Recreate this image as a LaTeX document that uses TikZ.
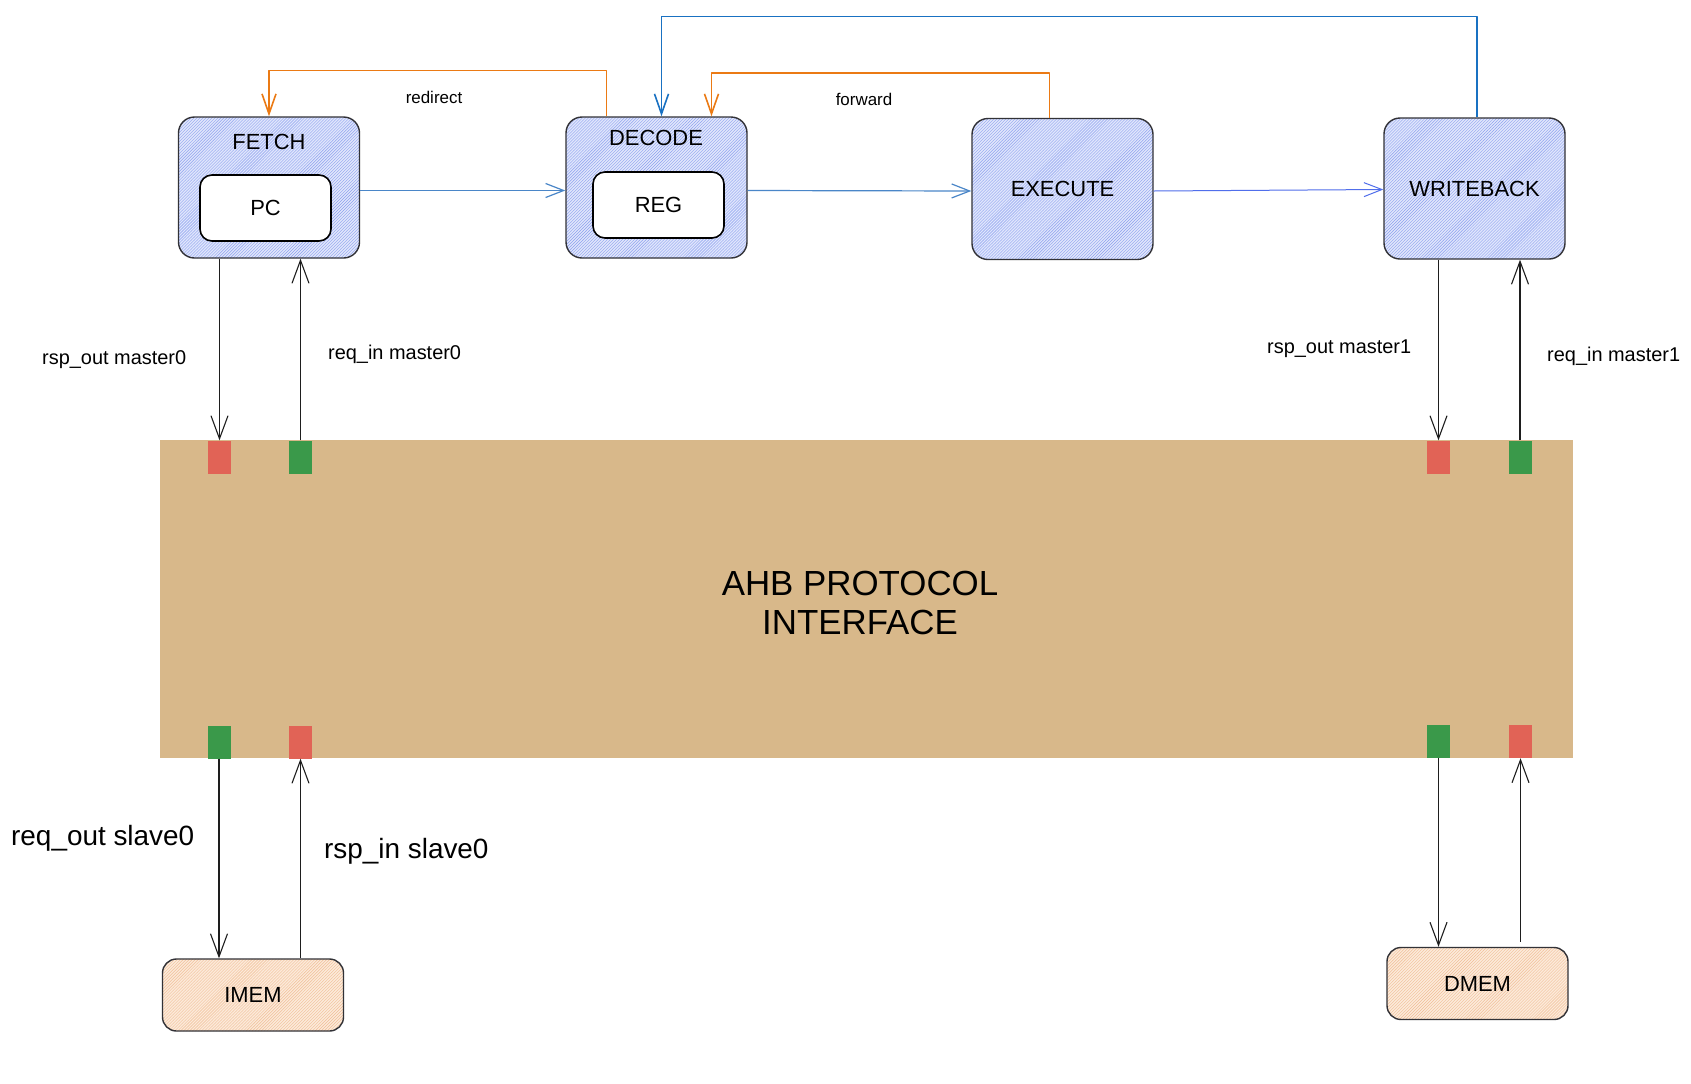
\documentclass[tikz,border=0pt]{standalone}
\usepackage{fontspec}
\setmainfont{Liberation Sans}
\usetikzlibrary{arrows.meta,patterns}
\definecolor{boxline}{RGB}{50,50,55}
\definecolor{stagefill}{RGB}{224,230,252}
\definecolor{stagehatch}{RGB}{140,160,238}
\definecolor{memfill}{RGB}{252,234,218}
\definecolor{memhatch}{RGB}{240,190,150}
\definecolor{ahbfill}{RGB}{216,184,138}
\definecolor{portred}{RGB}{225,99,86}
\definecolor{portgreen}{RGB}{58,153,74}
\definecolor{flowblue}{RGB}{74,134,200}
\definecolor{wbblue}{RGB}{80,110,235}
\definecolor{topblue}{RGB}{25,113,194}
\definecolor{fbkorange}{RGB}{235,122,20}
\definecolor{sigline}{RGB}{30,30,30}

\begin{document}
\begin{tikzpicture}[x=1bp,y=-1bp,line join=round,
    stage/.style={draw=boxline,line width=1.4bp,rounded corners=16bp,preaction={fill=stagefill},
                  pattern=north east lines,pattern color=stagehatch,minimum width=181bp,
                  minimum height=141bp,inner sep=0pt,font=\fontsize{22}{26}\selectfont},
    unit/.style={draw=black,line width=1.6bp,fill=white,rounded corners=12bp,minimum width=131bp,
                 minimum height=66bp,inner sep=0pt,font=\fontsize{22}{26}\selectfont},
    mem/.style={draw=boxline,line width=1.4bp,rounded corners=14bp,preaction={fill=memfill},
                pattern=north east lines,pattern color=memhatch,minimum width=181bp,
                minimum height=72bp,inner sep=0pt,font=\fontsize{22}{26}\selectfont},
    port/.style={minimum width=23bp,minimum height=33bp,inner sep=0pt},
    sig/.style={font=\fontsize{20}{24}\selectfont,inner sep=0pt},
    bigsig/.style={font=\fontsize{28}{32}\selectfont,inner sep=0pt},
    flow/.style={draw=flowblue,line width=1.2bp,-{Straight Barb[length=18bp,width=14bp]}},
    fbk/.style={line width=1.6bp,-{Straight Barb[length=20bp,width=14bp]}},
    bus/.style={draw=sigline,line width=1.1bp,-{Straight Barb[length=23bp,width=17bp]}}]
  \useasboundingbox[fill=white] (0,0) rectangle (1691,1083);

  \node[stage] (fetch) at (269,187.5) {};
  \node[font=\fontsize{22}{26}\selectfont] (fetchlbl) at (269,142) {FETCH};
  \node[unit] (pc) at (265.5,208) {PC};
  \node[stage] (decode) at (656.5,187.5) {};
  \node[font=\fontsize{22}{26}\selectfont] (decodelbl) at (656,138) {DECODE};
  \node[unit] (reg) at (658.5,205) {REG};
  \node[stage] (execute) at (1062.5,189) {EXECUTE};
  \node[stage] (writeback) at (1474.5,188.5) {WRITEBACK};

  \node[fill=ahbfill,minimum width=1413bp,minimum height=318bp,inner sep=0pt] (ahb) at (866.5,599) {};
  \node[align=center,font=\fontsize{35}{40}\selectfont] (ahblbl) at (860,603) {AHB PROTOCOL\\INTERFACE};
  \node[port,fill=portred] (rspm0) at (219.5,457) {};
  \node[port,fill=portgreen] (reqm0) at (300.5,457) {};
  \node[port,fill=portred] (rspm1) at (1438.5,457) {};
  \node[port,fill=portgreen] (reqm1) at (1520,457) {};
  \node[port,fill=portgreen] (reqs0) at (219,742) {};
  \node[port,fill=portred] (rsps0) at (300.5,742) {};
  \node[port,fill=portgreen] (reqs1) at (1438.5,741.5) {};
  \node[port,fill=portred] (rsps1) at (1520.5,741.5) {};

  \node[mem] (imem) at (253,995) {IMEM};
  \node[mem] (dmem) at (1477.5,983.5) {DMEM};

  \node[sig,anchor=base west] (rspm0lbl) at (42,364) {rsp\_out master0};
  \node[sig,anchor=base west] (reqm0lbl) at (328,359) {req\_in master0};
  \node[sig,anchor=base west] (rspm1lbl) at (1267,353) {rsp\_out master1};
  \node[sig,anchor=base west] (reqm1lbl) at (1547,361) {req\_in master1};
  \node[bigsig,anchor=base west] (reqs0lbl) at (11,845) {req\_out slave0};
  \node[bigsig,anchor=base west] (rsps0lbl) at (324,858) {rsp\_in slave0};
  \node[font=\fontsize{17}{20}\selectfont] (redirectlbl) at (434,97) {redirect};
  \node[font=\fontsize{17}{20}\selectfont] (forwardlbl) at (864,99) {forward};

  \path ([yshift=-3bp]fetch.east) edge[flow] ([yshift=-3bp]decode.west)
        ([yshift=-3bp]decode.east) edge[flow] ([yshift=-2bp]execute.west)
        ([yshift=-2bp]execute.east) edge[flow,draw=wbblue,line width=1bp] ([yshift=-1bp]writeback.west);
  \draw[fbk,draw=fbkorange] ([xshift=-50bp]decode.north) -- ++(0,-46) -| (fetch.north);
  \draw[fbk,draw=fbkorange] ([xshift=-13bp]execute.north) -- ++(0,-45) -| ([xshift=55bp]decode.north);
  \draw[fbk,draw=topblue] ([xshift=2.5bp]writeback.north) -- ++(0,-101) -| ([xshift=5bp]decode.north);

  \path (fetch.south -| rspm0) edge[bus] (rspm0.north)
        (reqm0.north) edge[bus] (fetch.south -| reqm0)
        (writeback.south -| rspm1) edge[bus] (rspm1.north)
        (reqm1.north) edge[bus] (writeback.south -| reqm1)
        (reqs0.south) edge[bus] (imem.north -| reqs0)
        (imem.north -| rsps0) edge[bus] (rsps0.south)
        (reqs1.south) edge[bus] (dmem.north -| reqs1)
        ([yshift=5bp]dmem.north -| rsps1) edge[bus] (rsps1.south);
\end{tikzpicture}
\end{document}
